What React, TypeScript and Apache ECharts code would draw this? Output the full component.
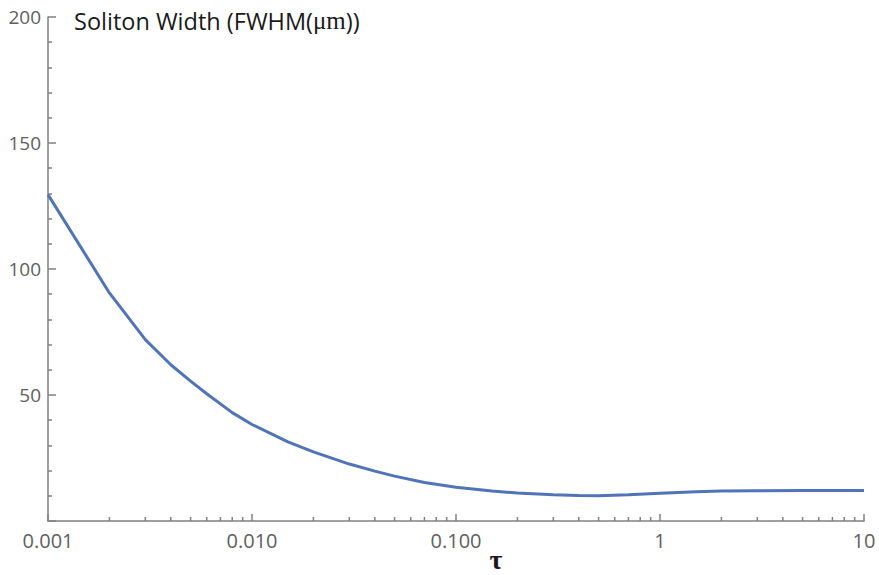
import React, { useEffect, useRef } from "react";
import * as echarts from "echarts";

const tau = [0.001, 0.002, 0.003, 0.004, 0.005, 0.006, 0.008, 0.01, 0.015, 0.02, 0.03, 0.04, 0.05, 0.07, 0.1, 0.15, 0.2, 0.3, 0.4, 0.5, 0.7, 1, 1.5, 2, 3, 5, 10];
const width = [129.5, 90.5, 72, 62, 55.5, 50.5, 43, 38.3, 31.4, 27.4, 22.6, 19.8, 17.8, 15.3, 13.4, 11.9, 11.1, 10.4, 10.1, 10, 10.4, 11, 11.6, 11.9, 12, 12.1, 12.1];
const xTickLabels = ["0.001", "0.010", "0.100", "1", "10"];
const xMinorTicks = [
  0.002, 0.003, 0.004, 0.005, 0.006, 0.007, 0.008, 0.009,
  0.02, 0.03, 0.04, 0.05, 0.06, 0.07, 0.08, 0.09,
  0.2, 0.3, 0.4, 0.5, 0.6, 0.7, 0.8, 0.9,
  2, 3, 4, 5, 6, 7, 8, 9,
];
const yMin = 0;
const yMax = 200;
const yStep = 50;

const AXIS = "#808080";
const LABEL = "#606060";

export default function App() {
  const ref = useRef<HTMLDivElement>(null);
  useEffect(() => {
    if (!ref.current) return;
    const chart = echarts.init(ref.current, null, { renderer: "svg" });
    chart.setOption({
      animation: false,
      backgroundColor: "#ffffff",
      title: {
        left: 69,
        top: 3,
        text: "Soliton Width (FWHM({mu|μm}))",
        textStyle: {
          fontFamily: "Open Sans",
          fontSize: 23.5,
          fontWeight: "normal",
          color: "#1a1a1a",
          rich: {
            mu: { fontFamily: "Liberation Serif", fontSize: 25, color: "#1a1a1a" },
          },
        },
      },
      graphic: [
        {
          type: "text",
          x: 496,
          y: 559,
          style: {
            text: "τ",
            font: "bold 28px 'Liberation Serif'",
            fill: "#1a1a1a",
            textAlign: "center",
            textVerticalAlign: "middle",
          },
        },
      ],
      grid: { left: 48, right: 15, top: 17, bottom: 54 },
      xAxis: {
        type: "log",
        logBase: 10,
        min: 0.001,
        max: 10,
        axisLine: { lineStyle: { color: AXIS, width: 1.5 } },
        axisTick: { inside: true, length: 7, lineStyle: { color: AXIS, width: 1.5 } },
        splitLine: { show: false },
        axisLabel: {
          color: LABEL,
          fontFamily: "Open Sans",
          fontSize: 20,
          margin: 9,
          formatter: (v: number) => xTickLabels[Math.round(Math.log10(v)) + 3] ?? "",
        },
      },
      yAxis: {
        type: "value",
        min: yMin,
        max: yMax,
        interval: yStep,
        axisLine: { show: true, lineStyle: { color: AXIS, width: 1.5 } },
        axisTick: { show: true, inside: true, length: 8, lineStyle: { color: AXIS, width: 1.5 } },
        minorTick: { show: true, splitNumber: 5, length: 4, lineStyle: { color: AXIS, width: 1.5 } },
        splitLine: { show: false },
        axisLabel: {
          color: LABEL,
          fontFamily: "Open Sans",
          fontSize: 19,
          margin: 7,
          formatter: (v: number) => (v === 0 ? "" : String(v)),
        },
      },
      series: [
        {
          type: "line",
          data: tau.map((t, i) => [t, width[i]]),
          showSymbol: false,
          smooth: false,
          lineStyle: { color: "#4f74b8", width: 3 },
          z: 3,
        },
        {
          type: "custom",
          data: xMinorTicks.map((t) => [t, 0]),
          clip: false,
          silent: true,
          renderItem: (_params: any, api: any) => {
            const p = api.coord([api.value(0), 0]);
            return {
              type: "line",
              shape: { x1: p[0], y1: p[1], x2: p[0], y2: p[1] - 4 },
              style: { stroke: AXIS, lineWidth: 1.5 },
            };
          },
          z: 2,
        },
      ],
    });
    return () => chart.dispose();
  }, []);
  return (
    <div
      ref={ref}
      style={{ position: "fixed", left: 0, top: 0, width: 879, height: 575 }}
    />
  );
}
